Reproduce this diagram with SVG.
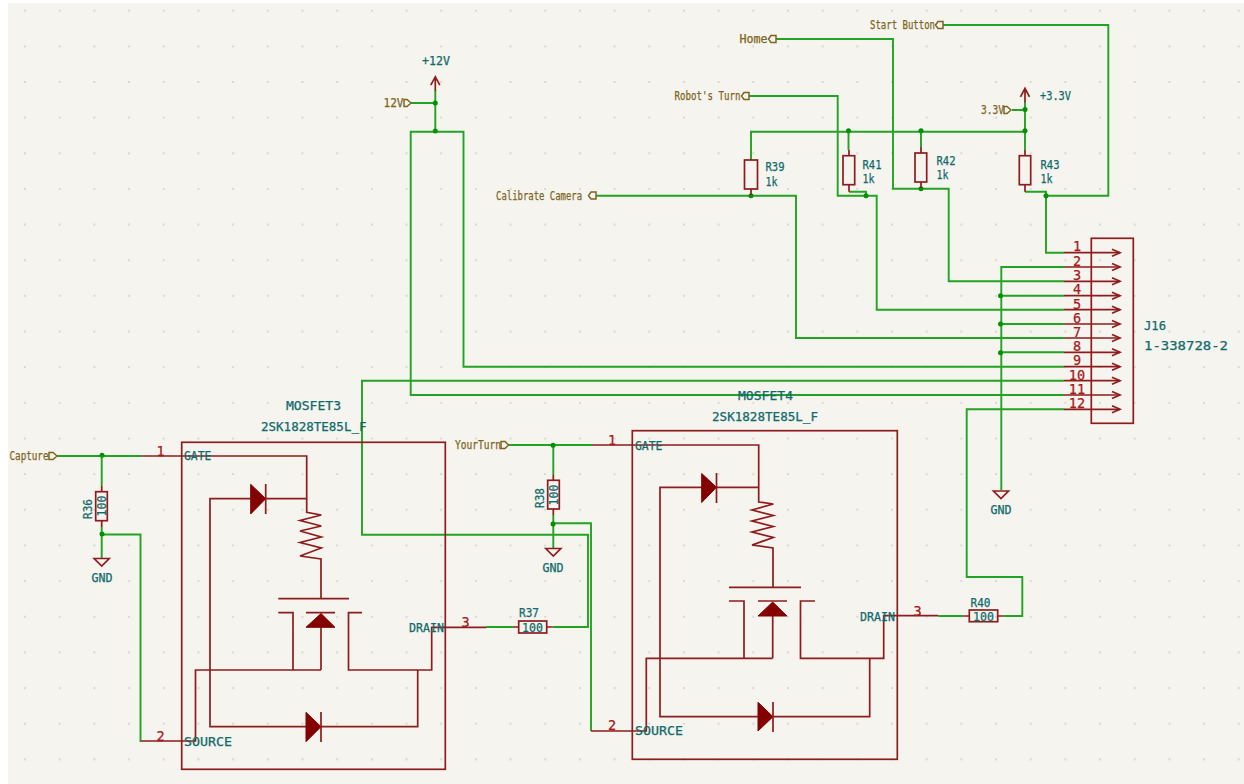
<svg xmlns="http://www.w3.org/2000/svg" width="1244" height="784" viewBox="0 0 1244 784">
<style>
.w{fill:none;stroke:#22a322;stroke-width:1.9}
.s{fill:none;stroke:#8f1c1c;stroke-width:1.7}
.f{fill:none;stroke:#7d6420;stroke-width:1.5}
.b{fill:#840000;stroke:#840000;stroke-width:1}
.j{fill:#009000}
text{font-family:"DejaVu Sans Mono","Liberation Mono",monospace;stroke-width:.25}
.t{fill:#0f6a6a;stroke:#0f6a6a;font-size:12.500px}
.l{fill:#7d6420;stroke:#7d6420;font-size:12px}
.n{fill:#a81818;stroke:#a81818;font-size:13.500px;text-anchor:middle}
.c{text-anchor:middle}
</style>
<defs>
<pattern id="g" x="25" y="10.7" width="34.68" height="35.65" patternUnits="userSpaceOnUse"><rect x="-0.8" y="-0.8" width="1.6" height="1.6" fill="#c9c9c4"/><rect x="33.88" y="-0.8" width="1.6" height="1.6" fill="#c9c9c4"/><rect x="-0.8" y="34.85" width="1.6" height="1.6" fill="#c9c9c4"/><rect x="33.88" y="34.85" width="1.6" height="1.6" fill="#c9c9c4"/></pattern>
<g id="gnd"><path class="s" d="M-7.500 0H7.500L0 7.500Z"/></g>
<g id="vcc"><path class="s" d="M-4.500 8.500L0 0L4.500 8.500M0 0V14"/></g>
<path id="chev" class="s" d="M-8-3.500L0 0L-8 3.500"/>
</defs>
<rect x="8" y="3" width="1236" height="781" fill="#f5f4ef"/>
<rect x="8" y="3" width="1236" height="781" fill="url(#g)"/>

<g id="connectors">
<path class="w" d="M943 25H1108.300V195.700H1046M1025 191.700H1046V252.700H1064"/>
<path class="w" d="M776 39H893V188.700H948.700V281.300H1064"/>
<path class="w" d="M749 96H837.700V195.700H876.700V309.700H1064M849 191.700H866V195.700"/>
<path class="w" d="M596 195.700H796V338H1064"/>
<path class="w" d="M751 160V131.700H1025M1025 102V150M1012 110H1025M848.500 131.700V150M921 131.700V147"/>
<path class="w" d="M1064 267H1001.300V490M1001 295.700H1064M1001 324H1064M1001 352.300H1064"/>
<path class="w" d="M1064 366.700H463.500V131.700H410.700V395H1064M411 103H435.300M435.300 90V131.700"/>
<path class="w" d="M1064 380.700H362V534.700H588V627H552.700M513 627H486"/>
<path class="w" d="M1064 409.300H966.700V577H1022.300V616H1003.300M963.300 616H938.300"/>
<path class="w" d="M57 456H141M101.700 456V486M101.700 527V558M101.700 534.500H140.500V741H141"/>
<path class="w" d="M508 445H592M553.300 445V475M553.300 515V548M553.300 523.300H591V731"/>
<g class="j">
<circle cx="1046" cy="195.700" r="2.500"/><circle cx="921" cy="188.700" r="2.500"/><circle cx="866" cy="195.700" r="2.500"/><circle cx="751" cy="195.700" r="2.500"/>
<circle cx="848.500" cy="130.700" r="2.500"/><circle cx="921" cy="130.700" r="2.500"/><circle cx="1025" cy="130.700" r="2.500"/><circle cx="1025" cy="109.500" r="2.500"/>
<circle cx="435.300" cy="103" r="2.500"/><circle cx="435.300" cy="131" r="2.500"/>
<circle cx="1000.500" cy="295.700" r="2.500"/><circle cx="1000.500" cy="324" r="2.500"/><circle cx="1000.500" cy="352.700" r="2.500"/>
<circle cx="102" cy="455.300" r="2.500"/><circle cx="102" cy="534" r="2.500"/><circle cx="553" cy="445.300" r="2.500"/><circle cx="553" cy="524" r="2.500"/>
</g>
</g>

<g id="hier-labels">
<g id="lbl-start"><text class="l" x="870" y="28.500" textLength="65" lengthAdjust="spacingAndGlyphs">Start Button</text><path class="f" d="M943 21.500H938L935.500 25L938 28.500H943Z"/></g>
<g id="lbl-home"><text class="l" x="739.500" y="43" textLength="28" lengthAdjust="spacingAndGlyphs">Home</text><path class="f" d="M776 35.500H771L768.500 39L771 42.500H776Z"/></g>
<g id="lbl-robot"><text class="l" x="674.500" y="100" textLength="66" lengthAdjust="spacingAndGlyphs">Robot's Turn</text><path class="f" d="M749 92.500H744L741.500 96L744 99.500H749Z"/></g>
<g id="lbl-cal"><text class="l" x="496" y="199.500" textLength="86" lengthAdjust="spacingAndGlyphs">Calibrate Camera</text><path class="f" d="M596 192H591L588.500 195.700L591 199H596Z"/></g>
<g id="lbl-33"><text class="l" x="981" y="114" textLength="23" lengthAdjust="spacingAndGlyphs">3.3V</text><path class="f" d="M1004 106.500H1007L1011 110L1007 113.500H1004Z"/></g>
<g id="lbl-12"><text class="l" x="383.500" y="107" textLength="20" lengthAdjust="spacingAndGlyphs">12V</text><path class="f" d="M404 99.500H407L411 103L407 106.500H404Z"/></g>
<g id="lbl-capture"><text class="l" x="9.500" y="460" textLength="39" lengthAdjust="spacingAndGlyphs">Capture</text><path class="f" d="M49 452.500H53L57 456L53 459.500H49Z"/></g>
<g id="lbl-your"><text class="l" x="455" y="448.500" textLength="46" lengthAdjust="spacingAndGlyphs">YourTurn</text><path class="f" d="M501 441.500H505L508.500 445L505 448.500H501Z"/></g>
</g>

<g id="power-33"><use href="#vcc" x="1025" y="88.300"/><text class="t" x="1040" y="100" textLength="31" lengthAdjust="spacingAndGlyphs">+3.3V</text></g>
<g id="power-12"><use href="#vcc" x="435.300" y="76.700"/><text class="t" x="422" y="64.500" textLength="28" lengthAdjust="spacingAndGlyphs">+12V</text></g>

<g id="R39"><rect class="s" x="744.500" y="160" width="13" height="29"/><path class="s" d="M751 189V195"/><text class="t" x="765.500" y="171" textLength="19" lengthAdjust="spacingAndGlyphs">R39</text><text class="t" x="765.500" y="185.500" textLength="12" lengthAdjust="spacingAndGlyphs">1k</text></g>
<g id="R41"><rect class="s" x="843" y="155.700" width="11.700" height="29"/><path class="s" d="M849 150V155.700M849 184.700V191.700"/><text class="t" x="862.500" y="168.500" textLength="19" lengthAdjust="spacingAndGlyphs">R41</text><text class="t" x="862.500" y="183" textLength="12" lengthAdjust="spacingAndGlyphs">1k</text></g>
<g id="R42"><rect class="s" x="915" y="153" width="11.700" height="29"/><path class="s" d="M921 147V153M921 182V188"/><text class="t" x="936.500" y="164.500" textLength="19" lengthAdjust="spacingAndGlyphs">R42</text><text class="t" x="936.500" y="179" textLength="12" lengthAdjust="spacingAndGlyphs">1k</text></g>
<g id="R43"><rect class="s" x="1019.300" y="155.700" width="11.400" height="29"/><path class="s" d="M1025 150V155.700M1025 184.700V191.700"/><text class="t" x="1040.500" y="168.500" textLength="19" lengthAdjust="spacingAndGlyphs">R43</text><text class="t" x="1040.500" y="183" textLength="12" lengthAdjust="spacingAndGlyphs">1k</text></g>

<g id="J16">
<rect class="s" x="1091.300" y="238.300" width="42" height="185"/>
<path class="s" d="M1064 252.700H1120M1064 267H1120M1064 281.300H1120M1064 295.700H1120M1064 309.700H1120M1064 324H1120M1064 338H1120M1064 352.300H1120M1064 366.700H1120M1064 380.700H1120M1064 395H1120M1064 409.300H1120"/>
<use href="#chev" x="1120" y="252.700"/><use href="#chev" x="1120" y="267"/><use href="#chev" x="1120" y="281.300"/><use href="#chev" x="1120" y="295.700"/><use href="#chev" x="1120" y="309.700"/><use href="#chev" x="1120" y="324"/><use href="#chev" x="1120" y="338"/><use href="#chev" x="1120" y="352.300"/><use href="#chev" x="1120" y="366.700"/><use href="#chev" x="1120" y="380.700"/><use href="#chev" x="1120" y="395"/><use href="#chev" x="1120" y="409.300"/>
<g>
<text class="n" x="1077" y="251">1</text><text class="n" x="1077" y="265.500">2</text><text class="n" x="1077" y="280">3</text><text class="n" x="1077" y="294">4</text><text class="n" x="1077" y="308.500">5</text><text class="n" x="1077" y="322.500">6</text><text class="n" x="1077" y="336.500">7</text><text class="n" x="1077" y="351">8</text><text class="n" x="1077" y="365">9</text><text class="n" x="1077" y="379.500">10</text><text class="n" x="1077" y="393.500">11</text><text class="n" x="1077" y="408">12</text>
</g>
<text class="t" x="1144" y="329.500" textLength="22" lengthAdjust="spacingAndGlyphs">J16</text>
<text class="t" x="1144" y="350" textLength="84" lengthAdjust="spacingAndGlyphs">1-338728-2</text>
</g>

<g id="GND-J16"><use href="#gnd" x="1001" y="491"/><text class="t c" x="1001" y="513.500" textLength="21" lengthAdjust="spacingAndGlyphs">GND</text></g>

<g id="R36"><rect class="s" x="95.700" y="491.700" width="11.600" height="29"/><path class="s" d="M101.700 486V491.700M101.700 520.700V527"/><text class="t c" transform="translate(91.500,509) rotate(-90)" textLength="20" lengthAdjust="spacingAndGlyphs">R36</text><text class="t c" transform="translate(106,506) rotate(-90)" textLength="21" lengthAdjust="spacingAndGlyphs">100</text></g>
<g id="GND-R36"><use href="#gnd" x="101.700" y="558.500"/><text class="t c" x="102" y="581.500" textLength="21" lengthAdjust="spacingAndGlyphs">GND</text></g>

<g id="R38"><rect class="s" x="547.700" y="480.300" width="11.600" height="28.700"/><path class="s" d="M553.300 475V480.300M553.300 509V515"/><text class="t c" transform="translate(543.500,498) rotate(-90)" textLength="20" lengthAdjust="spacingAndGlyphs">R38</text><text class="t c" transform="translate(557.500,495) rotate(-90)" textLength="21" lengthAdjust="spacingAndGlyphs">100</text></g>
<g id="GND-R38"><use href="#gnd" x="553.300" y="548.500"/><text class="t c" x="553" y="571.500" textLength="21" lengthAdjust="spacingAndGlyphs">GND</text></g>

<g id="R37"><rect class="s" x="518.700" y="621" width="28" height="12"/><path class="s" d="M513 627H518.700M546.700 627H552.700"/><text class="t c" x="529" y="616.500" textLength="20" lengthAdjust="spacingAndGlyphs">R37</text><text class="t c" x="532.500" y="631.500" textLength="21" lengthAdjust="spacingAndGlyphs">100</text></g>
<g id="R40"><rect class="s" x="969.300" y="610" width="28.400" height="11.700"/><path class="s" d="M963.300 616H969.300M997.700 616H1003.300"/><text class="t c" x="980.500" y="606.500" textLength="20" lengthAdjust="spacingAndGlyphs">R40</text><text class="t c" x="983.500" y="620.500" textLength="21" lengthAdjust="spacingAndGlyphs">100</text></g>

<g id="MOSFET3">
<rect class="s" x="181.700" y="442.300" width="263.600" height="327"/>
<path class="s" d="M141 456H306.700V512.300L321.300 515L300 520.500L321.300 526L300 531L321.300 537L300 542.500L321.300 548L300 556L321 559V598.700M278.300 598.700H349"/>
<path class="s" d="M306.700 498.700H210V726.700H417.700V670M278.300 612.700H293V670M306 612.700H335M321 627V670M362 612.700H348.500V670H431.700V627.300H486M321 670H195.500V741H141"/>
<path class="b" d="M250.700 484.300V514L265.700 498.700ZM306 712.300V741.700L321 726.700ZM321 613.500L306 627.300H335Z"/>
<path class="s" d="M265.700 484V514M321 712V742"/>
<text class="n" x="160.500" y="456">1</text><text class="n" x="160.500" y="741">2</text><text class="n" x="465.500" y="627">3</text>
<text class="t" x="184" y="460" textLength="27.500" lengthAdjust="spacingAndGlyphs">GATE</text><text class="t" x="184" y="745.500" textLength="48" lengthAdjust="spacingAndGlyphs">SOURCE</text><text class="t" x="409" y="631.500" textLength="35" lengthAdjust="spacingAndGlyphs">DRAIN</text>
<text class="t" x="286" y="409.500" textLength="55" lengthAdjust="spacingAndGlyphs">MOSFET3</text><text class="t" x="261" y="431" textLength="105.500" lengthAdjust="spacingAndGlyphs">2SK1828TE85L_F</text>
</g>

<g id="MOSFET4">
<rect class="s" x="632.300" y="430.700" width="265" height="328.600"/>
<path class="s" d="M592 445H758.700V502L773.300 504L752 510L773.300 515.500L752 521L773.300 526.500L752 532L773.300 537.500L752 545L773 548V587.300M729 587.300H801"/>
<path class="s" d="M758.700 487.300H660V716.700H869.700V658.300M729 601H744V658.300M758 601H787M772.700 615.500V658.300M815 601H800.500V658.300H883.700V615.700H938.300M772.700 658.300H646.300V731H591"/>
<path class="b" d="M701.700 473.500V502.500L716.500 487.300ZM758 702.300V731L773 716.700ZM772.700 602L758 616H787Z"/>
<path class="s" d="M716.500 473V503M773 702V732"/>
<text class="n" x="612" y="445">1</text><text class="n" x="612" y="730">2</text><text class="n" x="917.500" y="616">3</text>
<text class="t" x="635" y="449.500" textLength="27.500" lengthAdjust="spacingAndGlyphs">GATE</text><text class="t" x="635" y="734.500" textLength="48" lengthAdjust="spacingAndGlyphs">SOURCE</text><text class="t" x="860" y="620.500" textLength="35" lengthAdjust="spacingAndGlyphs">DRAIN</text>
<text class="t" x="738" y="399.500" textLength="55" lengthAdjust="spacingAndGlyphs">MOSFET4</text><text class="t" x="712" y="420.500" textLength="106" lengthAdjust="spacingAndGlyphs">2SK1828TE85L_F</text>
</g>
</svg>
